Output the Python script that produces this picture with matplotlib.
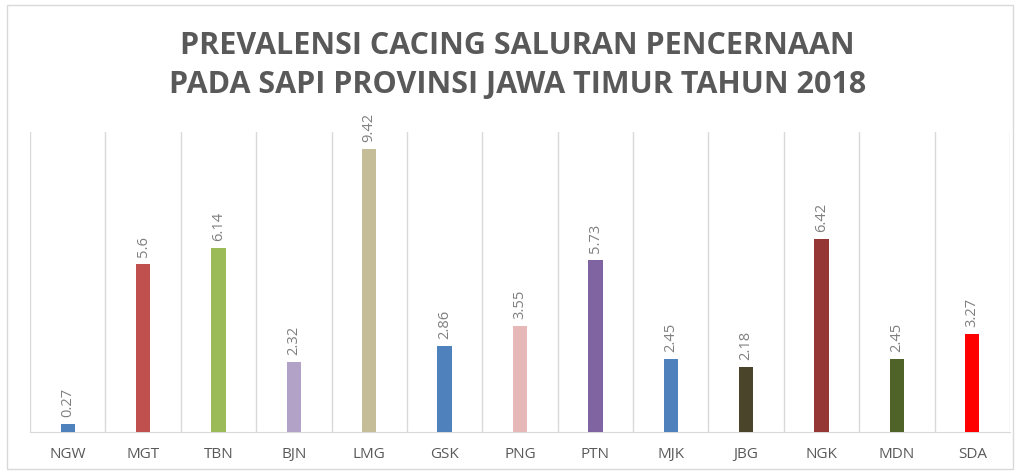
import matplotlib.pyplot as plt
from matplotlib.patches import Rectangle

# data
kabupaten = ['NGW', 'MGT', 'TBN', 'BJN', 'LMG', 'GSK', 'PNG',
             'PTN', 'MJK', 'JBG', 'NGK', 'MDN', 'SDA']
prevalensi = [0.27, 5.6, 6.14, 2.32, 9.42, 2.86, 3.55,
              5.73, 2.45, 2.18, 6.42, 2.45, 3.27]
warna = ['#4F81BD', '#C0504D', '#9BBB59', '#B2A2C7', '#C4BD97', '#4F81BD',
         '#E6B9B8', '#8064A2', '#4F81BD', '#4A452A', '#953735', '#4F6228',
         '#FF0000']

teks = '#595959'
garis = '#D9D9D9'

fig = plt.figure(figsize=(10.19, 4.73), dpi=100)
ax = fig.add_axes([30 / 1019, 41 / 473, 980 / 1019, 300 / 473])

x = range(len(kabupaten))
bars = ax.bar(x, prevalensi, width=0.19, color=warna, zorder=3)

for b, v in zip(bars, prevalensi):
    ax.annotate(str(v), (b.get_x() + b.get_width() / 2, v),
                xytext=(0, 5), textcoords='offset points',
                rotation=90, ha='center', va='bottom',
                fontsize=10.5, color='#7F7F7F', family='Open Sans')

ax.set_xlim(-0.5, len(kabupaten) - 0.5)
ax.set_ylim(0, 10)
for i in range(len(kabupaten) + 1):
    ax.axvline(i - 0.5, color=garis, lw=1, zorder=1)

ax.set_xticks(list(x))
ax.set_xticklabels(kabupaten, fontsize=11, color=teks, family='Open Sans')
ax.tick_params(axis='x', length=0, pad=11)
ax.set_yticks([])
for s in ['top', 'left', 'right']:
    ax.spines[s].set_visible(False)
ax.spines['bottom'].set_color(garis)

fig.text(0.508, 0.862, 'PREVALENSI CACING SALURAN PENCERNAAN\nPADA SAPI PROVINSI JAWA TIMUR TAHUN 2018',
         ha='center', va='center', fontsize=22, fontweight='bold',
         color=teks, family='Open Sans', linespacing=1.4)

fig.patches.append(Rectangle((7 / 1019, 4 / 473), 1006 / 1019, 464 / 473,
                             transform=fig.transFigure, fill=False,
                             edgecolor=garis, lw=1))

fig.savefig('out.png', dpi=100)
